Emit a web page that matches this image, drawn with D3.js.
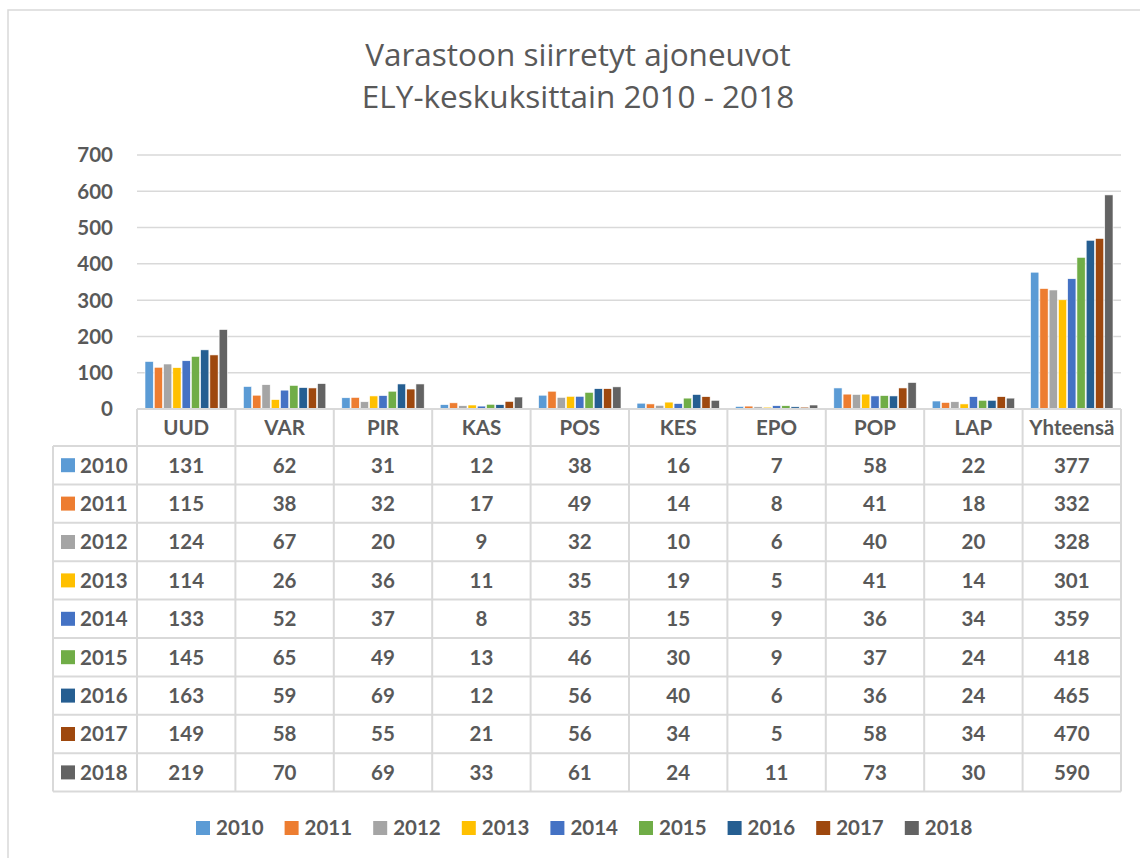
<!DOCTYPE html>
<html><head><meta charset="utf-8">
<script src="https://cdn.jsdelivr.net/npm/d3@7"></script>
<style>
body{margin:0;background:#fff;}
svg text{font-family:Lato,"Open Sans",sans-serif;}
</style></head>
<body><svg id="c" width="1140" height="858"></svg>
<script>
const categories = ["UUD","VAR","PIR","KAS","POS","KES","EPO","POP","LAP","Yhteensä"];
const years = ["2010","2011","2012","2013","2014","2015","2016","2017","2018"];
const v2010 = [131,62,31,12,38,16,7,58,22,377];
const v2011 = [115,38,32,17,49,14,8,41,18,332];
const v2012 = [124,67,20,9,32,10,6,40,20,328];
const v2013 = [114,26,36,11,35,19,5,41,14,301];
const v2014 = [133,52,37,8,35,15,9,36,34,359];
const v2015 = [145,65,49,13,46,30,9,37,24,418];
const v2016 = [163,59,69,12,56,40,6,36,24,465];
const v2017 = [149,58,55,21,56,34,5,58,34,470];
const v2018 = [219,70,69,33,61,24,11,73,30,590];
const yTicks = [0,100,200,300,400,500,600,700];
const colors = ["#5b9bd5","#ed7d31","#a5a5a5","#ffc000","#4472c4","#70ad47","#255e91","#9e480e","#636363"];
const series = [v2010,v2011,v2012,v2013,v2014,v2015,v2016,v2017,v2018];

const svg = d3.select("#c");
const txt = "#595959", grid = "#d9d9d9";
const fs = "20.5px";

// outer border
svg.append("rect").attr("x",8).attr("y",10).attr("width",1150).attr("height",900)
  .attr("fill","none").attr("stroke",grid).attr("stroke-width",1.5);

// title
const title = svg.append("text").attr("text-anchor","middle").attr("fill",txt)
  .style("font-family","'Open Sans',sans-serif").style("font-size","31.5px");
title.append("tspan").attr("x",578).attr("y",66).text("Varastoon siirretyt ajoneuvot");
title.append("tspan").attr("x",578).attr("y",108).text("ELY-keskuksittain 2010 - 2018");

const x0 = 137, x1 = 1121, yTop = 155, yBase = 409;
const x = d3.scaleBand().domain(categories).range([x0,x1]).padding(0);
const y = d3.scaleLinear().domain([0,700]).range([yBase,yTop]);
const outer = 7.5;
const xs = d3.scaleBand().domain(years).range([outer, x.bandwidth()-outer]).padding(0);

// gridlines
svg.append("g").selectAll("line").data(yTicks.filter(d=>d>0)).join("line")
  .attr("x1",x0).attr("x2",x1).attr("y1",d=>y(d)).attr("y2",d=>y(d))
  .attr("stroke",grid).attr("stroke-width",1.5);

// y axis labels
svg.append("g").selectAll("text").data(yTicks).join("text")
  .attr("x",113).attr("y",d=>y(d)).attr("dy","0.36em").attr("text-anchor","end")
  .attr("fill",txt).style("font-weight","bold").style("font-size",fs).text(d=>d);

// bars
const g = svg.append("g");
series.forEach((s,i)=>{
  g.append("g").selectAll("rect").data(s).join("rect")
    .attr("x",(d,j)=>x(categories[j])+xs(years[i])+0.5)
    .attr("width",xs.bandwidth()-1)
    .attr("y",d=>y(d)).attr("height",d=>yBase-y(d))
    .attr("fill",colors[i]).attr("stroke","#fff").attr("stroke-width",0.6);
});

// table
const rowH = 38.4, headTop = yBase, bodyTop = 446, leftX = 53;
const yRow = d3.scaleBand().domain(years).range([bodyTop, bodyTop+rowH*years.length]);
const tbl = svg.append("g").attr("stroke",grid).attr("stroke-width",2).attr("fill","none");
tbl.append("line").attr("x1",x0).attr("x2",x1).attr("y1",headTop).attr("y2",headTop);
years.forEach(yr=>{
  tbl.append("line").attr("x1",leftX).attr("x2",x1).attr("y1",yRow(yr)).attr("y2",yRow(yr));
});
const bottom = yRow(years[years.length-1])+rowH;
tbl.append("line").attr("x1",leftX).attr("x2",x1).attr("y1",bottom).attr("y2",bottom);
tbl.append("line").attr("x1",leftX).attr("x2",leftX).attr("y1",bodyTop).attr("y2",bottom);
categories.forEach(c=>{
  tbl.append("line").attr("x1",x(c)).attr("x2",x(c)).attr("y1",headTop).attr("y2",bottom);
});
tbl.append("line").attr("x1",x1).attr("x2",x1).attr("y1",headTop).attr("y2",bottom);

// header texts
svg.append("g").selectAll("text").data(categories).join("text")
  .attr("x",d=>x(d)+x.bandwidth()/2).attr("y",(headTop+bodyTop)/2).attr("dy","0.36em")
  .attr("text-anchor","middle").attr("fill",txt).style("font-weight","bold").style("font-size",fs)
  .text(d=>d);

// row labels
years.forEach((yr,i)=>{
  const cy = yRow(yr)+rowH/2;
  svg.append("rect").attr("x",61).attr("y",cy-7).attr("width",14).attr("height",14).attr("fill",colors[i]);
  svg.append("text").attr("x",80).attr("y",cy).attr("dy","0.36em").attr("fill",txt)
    .style("font-weight","bold").style("font-size",fs).text(yr);
  svg.append("g").selectAll("text").data(series[i]).join("text")
    .attr("x",(d,j)=>x(categories[j])+x.bandwidth()/2).attr("y",cy).attr("dy","0.36em")
    .attr("text-anchor","middle").attr("fill",txt).style("font-weight","bold").style("font-size",fs)
    .text(d=>d);
});

// legend
const legStart = 196, legStep = 88.6, legY = 828;
years.forEach((yr,i)=>{
  const lx = legStart + i*legStep;
  svg.append("rect").attr("x",lx).attr("y",legY-7).attr("width",14).attr("height",14).attr("fill",colors[i]);
  svg.append("text").attr("x",lx+20).attr("y",legY).attr("dy","0.36em").attr("fill",txt)
    .style("font-weight","bold").style("font-size",fs).text(yr);
});
</script></body></html>
